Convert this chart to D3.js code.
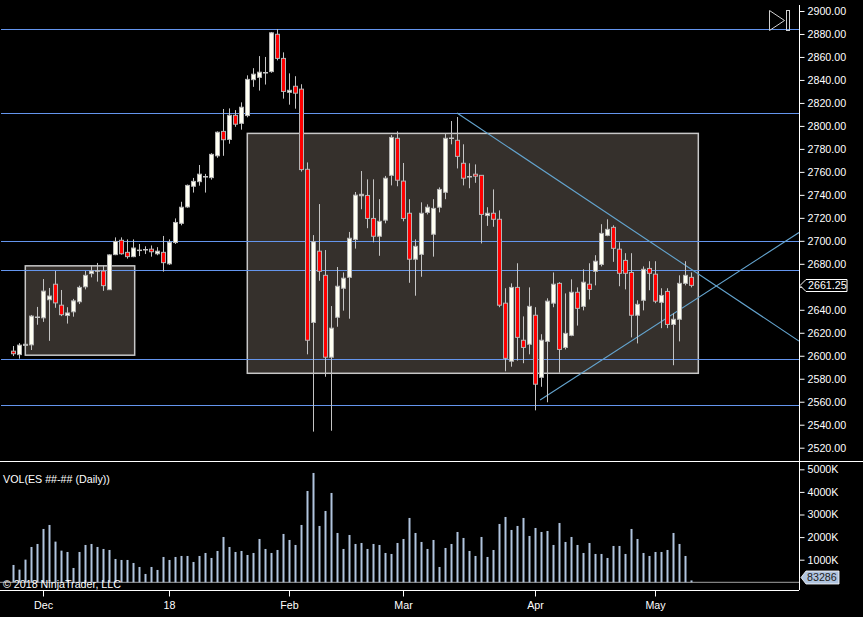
<!DOCTYPE html>
<html>
<head>
<meta charset="utf-8">
<script src="https://cdn.jsdelivr.net/npm/d3@7"></script>
<style>
	body { margin: 0; background: #000; }
	svg { display: block; font-family: "Liberation Sans", Arial, sans-serif; }
</style>
</head>
<body>
<svg id="chart" width="863" height="617"></svg>
<script>
'use strict';

// ES daily bars, late Nov 2017 .. early May 2018
var opens = [
	2604, 2601, 2609, 2609.5, 2633.5, 2633, 2648.75, 2662.25, 2644, 2635,
	2638.25, 2647, 2660, 2671.5, 2673.75, 2673.75, 2657.5, 2688, 2700.5, 2690,
	2686.25, 2691.75, 2692.25, 2692.75, 2688.75, 2690, 2680, 2698.5, 2715.25, 2729.5,
	2747.5, 2751.5, 2755.75, 2755, 2774, 2795.25, 2788.25, 2809.25, 2802.25, 2809,
	2840.25, 2842.25, 2846.25, 2847.25, 2879.75, 2858.75, 2829.25, 2834.5, 2832, 2762.25,
	2629, 2691, 2670, 2598.75, 2633.5, 2658.75, 2668.25, 2701.25, 2739.25, 2739.5,
	2719.5, 2704, 2718, 2757, 2789.25, 2752, 2724, 2684, 2688.25, 2724.75,
	2705.75, 2729.25, 2742.25, 2789.25, 2787.5, 2767.5, 2755.75, 2758, 2757, 2722,
	2724, 2718.75, 2645.75, 2595.25, 2659.5, 2613.5, 2610, 2635.25, 2581.25, 2612.5,
	2645.75, 2663, 2607.25, 2617.75, 2655.25, 2643, 2662.25, 2673.5, 2679.5, 2704.75,
	2711.75, 2692.75, 2683, 2672.5, 2635.25, 2648.25, 2676, 2671, 2646.5, 2656,
	2627.25, 2631.75, 2663, 2668.25
];
var highs = [
	2608.5, 2611, 2610.5, 2635.5, 2642.5, 2666.75, 2659, 2673.75, 2657.25, 2642.25,
	2649.5, 2661, 2673.75, 2678.75, 2680.75, 2678.5, 2688.25, 2703, 2703, 2701.25,
	2701.25, 2697.25, 2695.25, 2696, 2694.5, 2704.25, 2701.25, 2719.5, 2734, 2749,
	2754.75, 2766, 2758.25, 2776.25, 2795.25, 2814.75, 2815.25, 2813.75, 2820.5, 2844,
	2850.25, 2860.75, 2860, 2881.75, 2884.25, 2864, 2845.75, 2843.25, 2836.25, 2768.25,
	2705, 2732, 2692, 2643.25, 2677.25, 2672.5, 2707.75, 2742.5, 2760.75, 2753.5,
	2753.5, 2736.25, 2756.5, 2792, 2795.25, 2767.75, 2736.25, 2701.25, 2733.5, 2731.75,
	2736.25, 2746.5, 2793.5, 2804.25, 2807.75, 2784, 2767.5, 2766.5, 2757.25, 2729.25,
	2744.75, 2726.5, 2658.75, 2663, 2680.5, 2634.25, 2659.5, 2642.25, 2618.75, 2650,
	2672.5, 2664, 2654.25, 2666.5, 2659.5, 2675.25, 2680.5, 2687.5, 2714.5, 2718.75,
	2713.5, 2698.75, 2689.25, 2689.25, 2648.25, 2677.75, 2682.25, 2682.25, 2658.75, 2658.75,
	2637, 2670, 2682.25, 2672.5
];
var lows = [
	2599.75, 2597.5, 2608.5, 2605, 2627, 2629.5, 2613, 2641.75, 2634.5, 2628,
	2634, 2645, 2657.75, 2668.25, 2664.5, 2656.5, 2657.25, 2687.5, 2688, 2684.5,
	2685.75, 2686.75, 2688.5, 2686.25, 2687.5, 2673.25, 2679, 2697.25, 2713.5, 2728.75,
	2742, 2748, 2742, 2753.25, 2772.25, 2774, 2784.5, 2799.25, 2796.75, 2807.5,
	2834, 2830.75, 2836, 2846.25, 2857, 2823.75, 2818.5, 2815, 2760.25, 2601.25,
	2534, 2665.25, 2581.75, 2534.75, 2625.25, 2639.25, 2632.25, 2693.25, 2727.5, 2711,
	2698.75, 2687, 2715.25, 2748.25, 2747.5, 2717, 2663.5, 2652.25, 2668.75, 2723,
	2686.25, 2724.75, 2736.25, 2784, 2763, 2748.25, 2745.75, 2750.5, 2697.75, 2713,
	2712.25, 2642.25, 2586.5, 2590.5, 2595.75, 2593.5, 2601.25, 2552.5, 2573, 2559.5,
	2642.25, 2585.25, 2605.5, 2617, 2626.25, 2639.5, 2649, 2661.25, 2677.75, 2704,
	2681.75, 2660.5, 2657.75, 2616, 2610.75, 2639.5, 2657, 2645.75, 2624, 2624,
	2591.75, 2612.5, 2661.25, 2659.5
];
var closes = [
	2601.75, 2609.25, 2610, 2634.5, 2633.5, 2656.25, 2652, 2646, 2635.75, 2637.25,
	2647.75, 2659.5, 2670, 2673.75, 2673.75, 2661, 2687.75, 2699.5, 2688.75, 2686.25,
	2693.75, 2691.75, 2692.25, 2690.5, 2691, 2681, 2698.75, 2716, 2729.25, 2748.25,
	2751.75, 2758, 2755.75, 2775.25, 2794.5, 2788, 2809.25, 2801.5, 2816.25, 2840.5,
	2845, 2846.75, 2846.25, 2881, 2858.75, 2830, 2831, 2828.5, 2762, 2613.5,
	2699.25, 2673.5, 2598.75, 2624, 2660.5, 2667.5, 2702.25, 2739.75, 2740.5, 2719.5,
	2704, 2717, 2754.5, 2790, 2752.75, 2719.5, 2684, 2695.25, 2724, 2729.25,
	2728.25, 2744.75, 2789.25, 2789.25, 2773.5, 2754.5, 2755.75, 2756.25, 2723, 2724,
	2718.75, 2644, 2597.75, 2659.5, 2616, 2607.25, 2643, 2575.25, 2613.5, 2647.5,
	2662.25, 2605.5, 2619.5, 2655.25, 2641.25, 2664, 2657.75, 2682.25, 2706.5, 2710,
	2693.5, 2671.75, 2671.75, 2635.25, 2644.75, 2675.25, 2671.75, 2647.5, 2652.5, 2627.25,
	2631.75, 2663, 2670, 2661.25
];
// volume in thousands of contracts
var volumes = [
	767, 560, 1003, 1563, 1696, 2360, 2537, 1800, 1401, 1342,
	634, 1342, 1652, 1696, 1563, 1475, 1430, 1032, 988, 988,
	855, 678, 369, 678, 546, 1121, 988, 1121, 1165, 1165,
	900, 1165, 1298, 1077, 1386, 2006, 1563, 1342, 1386, 1209,
	1298, 1917, 1475, 1298, 1430, 2139, 1873, 1652, 2537, 4041,
	4838, 2493, 3156, 3953, 2183, 1475, 2094, 1696, 1740, 1475,
	1696, 1652, 1298, 1254, 1740, 1917, 2847, 2183, 1785, 1475,
	1873, 678, 1519, 1696, 2227, 1962, 1386, 1165, 2006, 1121,
	1430, 2581, 2891, 2316, 2493, 2847, 2050, 2404, 2227, 2271,
	1652, 2625, 1785, 2006, 1652, 1298, 1740, 1254, 1254, 1077,
	1608, 1608, 1254, 2360, 1917, 1298, 1165, 1342, 1342, 1430,
	2183, 1696, 1165, 83.286
];

var tickBars = [5, 26, 46, 65, 87, 107];
var tickLabels = ['Dec', '18', 'Feb', 'Mar', 'Apr', 'May'];
var priceTicks = d3.range(2520, 2901, 20);
var volumeTicks = [1000, 2000, 3000, 4000, 5000];

// drawing objects: horizontal lines, rectangles (bar index / price), trend lines
var levelPrices = [2884.25, 2811.25, 2699.75, 2674.5, 2597, 2557];
var boxBarFrom = [2.1, 39.1];
var boxBarTo = [20.33, 114.27];
var boxPriceTop = [2678.25, 2793.5];
var boxPriceBottom = [2600.5, 2584.75];
var trendBarFrom = [74.05, 87.9];
var trendPriceFrom = [2811.25, 2561.5];
var trendBarTo = [131.05, 131.05];
var trendPriceTo = [2612.75, 2707.25];

var bars = opens.map(function(o, i) {
	return { i: i, o: o, h: highs[i], l: lows[i], c: closes[i], v: volumes[i] };
});

var svg = d3.select('#chart');
var axisX = 799;
var fontSize = '10.7px';

var x = d3.scaleLinear().domain([0, 113]).range([12.7, 690.7]);
var y = d3.scaleLinear().domain([2520, 2900]).range([447.7, 11]);
var yVol = d3.scaleLinear().domain([0, 5000]).range([582.3, 469.3]);

svg.append('rect').attr('width', 863).attr('height', 617).attr('fill', '#000');

var defs = svg.append('defs');
defs.append('clipPath').attr('id', 'price-clip')
	.append('rect').attr('x', 0).attr('y', 0).attr('width', axisX).attr('height', 461);

var price = svg.append('g').attr('clip-path', 'url(#price-clip)');

// rectangles
price.selectAll('rect.box')
	.data(boxBarFrom)
	.enter()
	.append('rect')
	.attr('class', 'box')
	.attr('x', function(d) { return x(d); })
	.attr('y', function(d, k) { return y(boxPriceTop[k]); })
	.attr('width', function(d, k) { return x(boxBarTo[k]) - x(d); })
	.attr('height', function(d, k) { return y(boxPriceBottom[k]) - y(boxPriceTop[k]); })
	.attr('fill', '#35302c')
	.attr('stroke', '#c8c8c8')
	.attr('stroke-width', 1.5);

// horizontal lines
price.selectAll('line.level')
	.data(levelPrices)
	.enter()
	.append('line')
	.attr('class', 'level')
	.attr('x1', 1)
	.attr('x2', axisX)
	.attr('y1', function(d) { return Math.round(y(d)) + 0.5; })
	.attr('y2', function(d) { return Math.round(y(d)) + 0.5; })
	.attr('stroke', '#6495ed')
	.attr('stroke-width', 1);

// trend lines
price.selectAll('line.trend')
	.data(trendBarFrom)
	.enter()
	.append('line')
	.attr('class', 'trend')
	.attr('x1', function(d) { return x(d); })
	.attr('y1', function(d, k) { return y(trendPriceFrom[k]); })
	.attr('x2', function(d, k) { return x(trendBarTo[k]); })
	.attr('y2', function(d, k) { return y(trendPriceTo[k]); })
	.attr('stroke', '#64a4cf')
	.attr('stroke-width', 1.1);

// candles
var candle = price.selectAll('g.bar')
	.data(bars)
	.enter()
	.append('g')
	.attr('class', 'bar');

candle.append('line')
	.attr('x1', function(d) { return Math.round(x(d.i)) + 0.5; })
	.attr('x2', function(d) { return Math.round(x(d.i)) + 0.5; })
	.attr('y1', function(d) { return y(d.h); })
	.attr('y2', function(d) { return y(d.l); })
	.attr('stroke', '#c4c4c4')
	.attr('stroke-width', 1);

candle.filter(function(d) { return d.o !== d.c; })
	.append('rect')
	.attr('x', function(d) { return Math.round(x(d.i)) - 1.5; })
	.attr('width', 4)
	.attr('y', function(d) { return y(Math.max(d.o, d.c)); })
	.attr('height', function(d) { return Math.max(1, y(Math.min(d.o, d.c)) - y(Math.max(d.o, d.c))); })
	.attr('fill', function(d) { return d.c > d.o ? '#fffff2' : '#ff0000'; })
	.attr('stroke', '#b4b4b4')
	.attr('stroke-width', 1);

candle.filter(function(d) { return d.o === d.c; })
	.append('line')
	.attr('x1', function(d) { return Math.round(x(d.i)) - 2; })
	.attr('x2', function(d) { return Math.round(x(d.i)) + 3; })
	.attr('y1', function(d) { return y(d.c); })
	.attr('y2', function(d) { return y(d.c); })
	.attr('stroke', '#c4c4c4')
	.attr('stroke-width', 1.5);

// volume panel
svg.append('line')
	.attr('x1', 0).attr('x2', axisX)
	.attr('y1', yVol(0)).attr('y2', yVol(0))
	.attr('stroke', '#a0a0a0');

svg.append('g').selectAll('rect')
	.data(bars)
	.enter()
	.append('rect')
	.attr('x', function(d) { return Math.round(x(d.i)) - 0.5; })
	.attr('width', 2)
	.attr('y', function(d) { return yVol(d.v); })
	.attr('height', function(d) { return yVol(0) - yVol(d.v); })
	.attr('fill', '#b0c4de');

// panel frames
svg.append('line').attr('x1', 0).attr('x2', 863).attr('y1', 461.5).attr('y2', 461.5)
	.attr('stroke', '#fff');

/**
 * Paint axis lines and text the NinjaTrader way.
 * @param {D3Selection} g
 */
function styleAxis(g) {
	g.selectAll('path.domain').remove();
	g.selectAll('line').attr('stroke', '#fff');
	g.selectAll('text')
		.attr('fill', '#fff')
		.style('font-size', fontSize)
		.style('font-family', '"Liberation Sans", Arial, sans-serif');
}

svg.append('g')
	.attr('transform', 'translate(' + (axisX + 0.5) + ',0)')
	.call(d3.axisRight(y).tickValues(priceTicks).tickFormat(d3.format('.2f')).tickSize(5).tickPadding(3))
	.call(styleAxis);

svg.append('g')
	.attr('transform', 'translate(' + (axisX + 0.5) + ',0)')
	.call(d3.axisRight(yVol).tickValues(volumeTicks).tickFormat(function(d) { return d + 'K'; })
		.tickSize(5).tickPadding(3))
	.call(styleAxis);

svg.append('line')
	.attr('x1', axisX + 0.5).attr('x2', axisX + 0.5)
	.attr('y1', 5).attr('y2', 590)
	.attr('stroke', '#fff');

var timeAxis = svg.append('g')
	.attr('transform', 'translate(0,590.5)')
	.call(d3.axisBottom(x).tickValues(tickBars)
		.tickFormat(function(d, k) { return tickLabels[k]; })
		.tickSize(6).tickPadding(5))
	.call(styleAxis);
timeAxis.selectAll('.tick').attr('transform', function(d) {
	return 'translate(' + (Math.round(x(d)) + 0.5) + ',0)';
});
svg.append('line').attr('x1', 0).attr('x2', axisX).attr('y1', 590.5).attr('y2', 590.5)
	.attr('stroke', '#fff');

// last price marker
var last = bars[bars.length - 1];
var lastY = Math.round(y(last.c)) + 0.5;
svg.append('path')
	.attr('d', 'M' + (axisX + 1) + ',' + lastY + 'L806,' + (lastY - 6) + 'H847V' + (lastY + 6) + 'H806Z')
	.attr('fill', '#000')
	.attr('stroke', '#fff');
svg.append('text')
	.attr('x', 808).attr('y', lastY)
	.attr('dy', '0.35em')
	.attr('fill', '#fff')
	.style('font-size', fontSize)
	.text(d3.format('.2f')(last.c));

// last volume marker
var vY = Math.round(yVol(last.v)) - 2.5;
svg.append('path')
	.attr('d', 'M' + (axisX + 2) + ',' + vY + 'L806,' + (vY - 6.5) + 'H839V' + (vY + 6.5) + 'H806Z')
	.attr('fill', '#b0c4de')
	.attr('stroke', '#fff')
	.attr('stroke-width', 0.8);
svg.append('text')
	.attr('x', 807).attr('y', vY)
	.attr('dy', '0.35em')
	.attr('fill', '#222')
	.style('font-size', fontSize)
	.text(d3.format('d')(Math.round(last.v * 1000)));

// labels
svg.append('text')
	.attr('x', 3).attr('y', 479)
	.attr('dy', '0.35em')
	.attr('fill', '#fff')
	.style('font-size', fontSize)
	.text('VOL(ES ##-## (Daily))');

svg.append('text')
	.attr('x', 3).attr('y', 584)
	.attr('dy', '0.35em')
	.attr('fill', '#fff')
	.style('font-size', fontSize)
	.text('\u00a9 2018 NinjaTrader, LLC');

// "scroll to end" button
svg.append('path')
	.attr('d', 'M769.5,10.5L784.5,20.5L769.5,30.5Z')
	.attr('fill', 'none')
	.attr('stroke', '#d0d0d0');
svg.append('rect')
	.attr('x', 786.5).attr('y', 10.5).attr('width', 3).attr('height', 20)
	.attr('fill', 'none')
	.attr('stroke', '#d0d0d0');
</script>
</body>
</html>
